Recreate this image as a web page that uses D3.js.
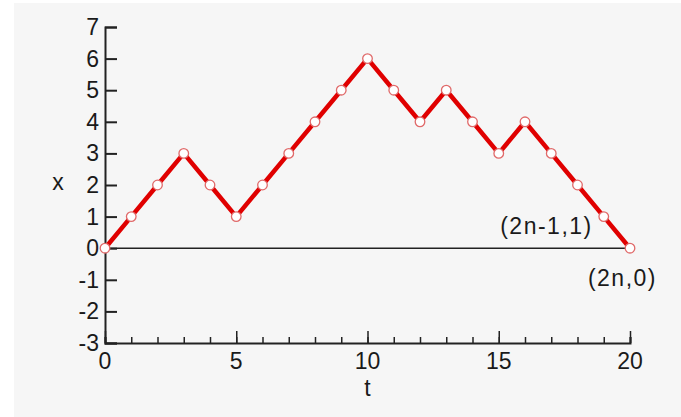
<!DOCTYPE html>
<html>
<head>
<meta charset="utf-8">
<script src="https://cdn.jsdelivr.net/npm/d3@7"></script>
<style>
  html, body { margin: 0; padding: 0; background: #fff; }
  svg { display: block; }
  text { font-family: "Liberation Sans", Arial, sans-serif; fill: #1a1a1a; }
</style>
</head>
<body>
<svg id="chart" width="681" height="417"></svg>
<script>
// walk steps t = 0..20
let tValues = [0, 1, 2, 3, 4, 5, 6, 7, 8, 9, 10, 11, 12, 13, 14, 15, 16, 17, 18, 19, 20];
let xValues = [0, 1, 2, 3, 2, 1, 2, 3, 4, 5, 6, 5, 4, 5, 4, 3, 4, 3, 2, 1, 0];
let tTicks = [0, 5, 10, 15, 20];
let tMinorTicks = d3.range(0, 21);
let xTicks = [-3, -2, -1, 0, 1, 2, 3, 4, 5, 6, 7];
let annotations = ["(2n-1,1)", "(2n,0)"];
let annotationT = [19, 20];
let annotationX = [1, 0];

let svg = d3.select('#chart');
let width = 681, height = 417;

svg.append('rect')
    .attr('x', 14).attr('y', 3)
    .attr('width', width - 14).attr('height', height - 3)
    .attr('fill', '#f6f6f6');

let tScale = d3.scaleLinear().domain([0, 20]).range([105, 630]);
let xScale = d3.scaleLinear().domain([-3, 7]).range([343, 27]);

// y axis (ticks point inwards)
let yAxis = d3.axisRight(xScale).tickValues(xTicks).tickSize(12).tickFormat('');
let yG = svg.append('g').attr('transform', 'translate(' + tScale(0) + ',0)').call(yAxis);
yG.select('.domain').attr('stroke', '#222').attr('stroke-width', 2);
yG.selectAll('.tick line').attr('stroke', '#222').attr('stroke-width', 2);
svg.selectAll('.ylabel')
    .data(xTicks)
    .enter().append('text')
    .attr('class', 'ylabel')
    .attr('x', tScale(0) - 6)
    .attr('y', d => xScale(d) + 8)
    .attr('text-anchor', 'end')
    .attr('font-size', 23)
    .text(d => d);

// t axis, minor ticks then major ticks
let minorAxis = d3.axisTop(tScale).tickValues(tMinorTicks).tickSize(6).tickFormat('');
let mG = svg.append('g').attr('transform', 'translate(0,' + xScale(-3) + ')').call(minorAxis);
mG.select('.domain').attr('stroke', '#222').attr('stroke-width', 2);
mG.selectAll('.tick line').attr('stroke', '#222').attr('stroke-width', 1.5);
let majorAxis = d3.axisTop(tScale).tickValues(tTicks).tickSize(12).tickFormat('');
let MG = svg.append('g').attr('transform', 'translate(0,' + xScale(-3) + ')').call(majorAxis);
MG.select('.domain').remove();
MG.selectAll('.tick line').attr('stroke', '#222').attr('stroke-width', 1.5);
svg.selectAll('.tlabel')
    .data(tTicks)
    .enter().append('text')
    .attr('class', 'tlabel')
    .attr('x', d => tScale(d))
    .attr('y', xScale(-3) + 26)
    .attr('text-anchor', 'middle')
    .attr('font-size', 23)
    .text(d => d);

// axis titles
svg.append('text').attr('x', 58).attr('y', 190)
    .attr('text-anchor', 'middle').attr('font-size', 23).text('x');
svg.append('text').attr('x', tScale(10)).attr('y', 396)
    .attr('text-anchor', 'middle').attr('font-size', 23).text('t');

// zero line
svg.append('line')
    .attr('x1', tScale(0)).attr('x2', tScale(20))
    .attr('y1', xScale(0)).attr('y2', xScale(0))
    .attr('stroke', '#222').attr('stroke-width', 1.5);

// path
let line = d3.line()
    .x((d, i) => tScale(tValues[i]))
    .y(d => xScale(d));
svg.append('path')
    .datum(xValues)
    .attr('d', line)
    .attr('fill', 'none')
    .attr('stroke', '#e00000')
    .attr('stroke-width', 4.5)
    .attr('stroke-linejoin', 'round');

svg.selectAll('.pt')
    .data(xValues)
    .enter().append('circle')
    .attr('class', 'pt')
    .attr('cx', (d, i) => tScale(tValues[i]))
    .attr('cy', d => xScale(d))
    .attr('r', 4.8)
    .attr('fill', '#fff')
    .attr('stroke', '#e06a6a')
    .attr('stroke-width', 1.3);

// annotations: first sits below-left of its point, second below-right
let noteDx = [-11, 27];
let noteDy = [17, 38];
svg.selectAll('.note')
    .data(annotations)
    .enter().append('text')
    .attr('class', 'note')
    .attr('x', (d, i) => tScale(annotationT[i]) + noteDx[i])
    .attr('y', (d, i) => xScale(annotationX[i]) + noteDy[i])
    .attr('text-anchor', 'end')
    .attr('font-size', 23)
    .attr('letter-spacing', 1.5)
    .text(d => d);
</script>
</body>
</html>
